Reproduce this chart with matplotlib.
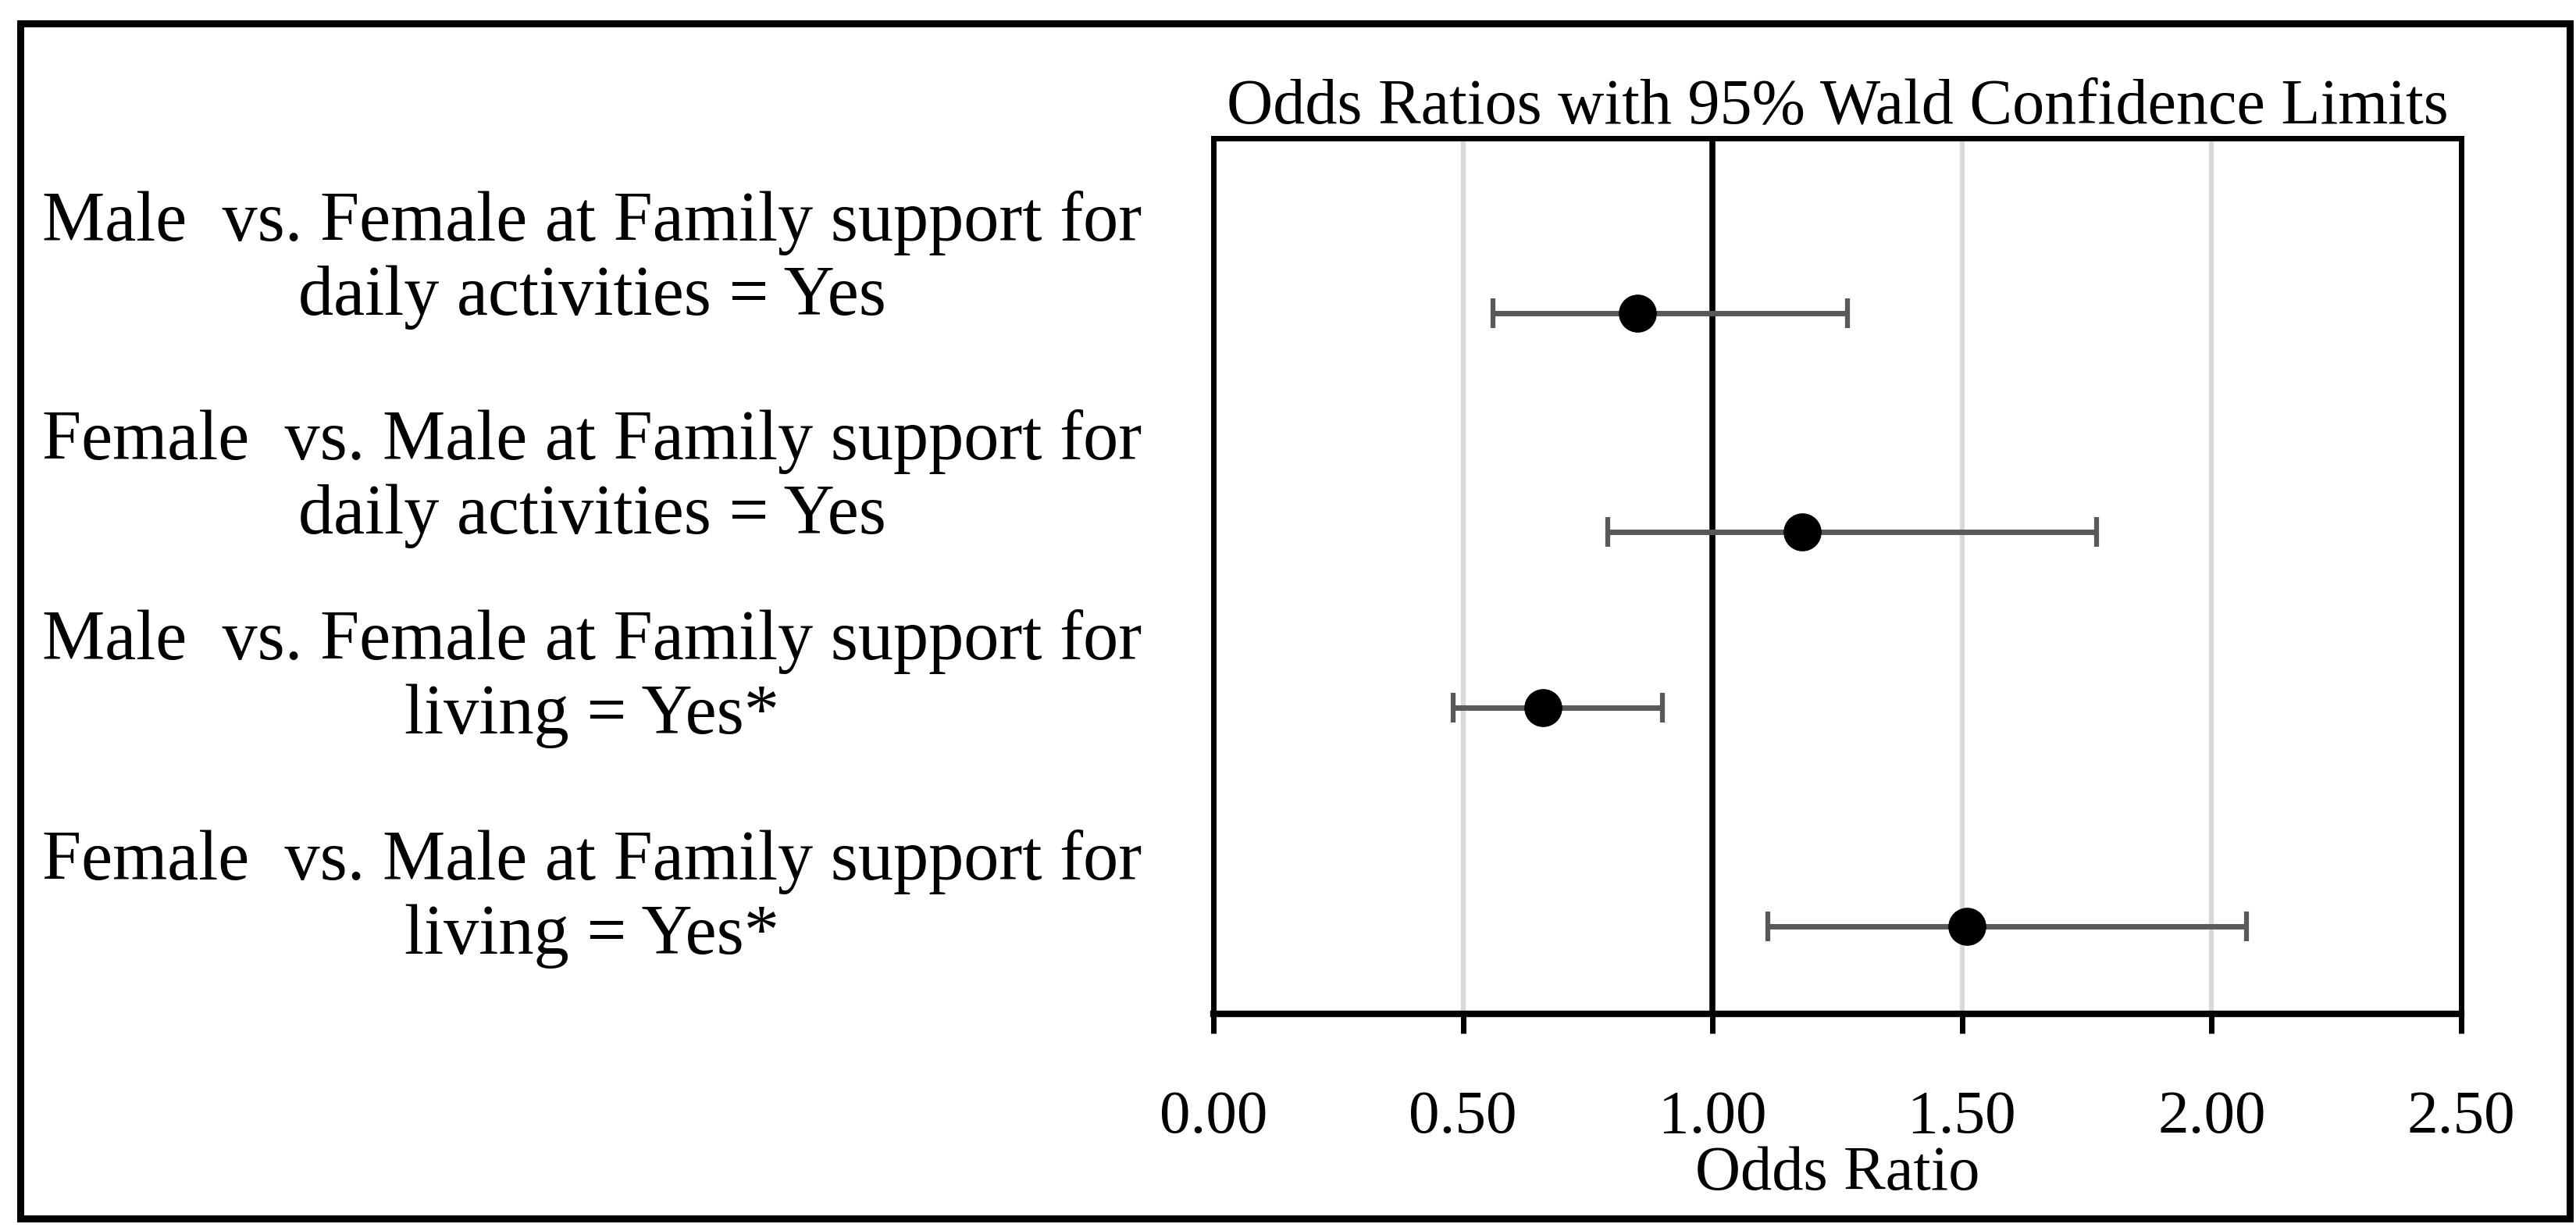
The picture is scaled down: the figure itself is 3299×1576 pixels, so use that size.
import numpy as np
import matplotlib
matplotlib.use('Agg')
import matplotlib.pyplot as plt
from matplotlib.patches import Rectangle

plt.rcParams['font.family'] = ['Liberation Serif', 'DejaVu Serif']

# data
labels = ['Male  vs. Female at Family support for\ndaily activities = Yes',
          'Female  vs. Male at Family support for\ndaily activities = Yes',
          'Male  vs. Female at Family support for\nliving = Yes*',
          'Female  vs. Male at Family support for\nliving = Yes*']
odds = [0.85, 1.18, 0.66, 1.51]
lower = [0.56, 0.79, 0.48, 1.11]
upper = [1.27, 1.77, 0.90, 2.07]
row_y = [0.80, 0.55, 0.35, 0.10]      # point rows
label_y = [0.875, 0.625, 0.397, 0.145]  # label rows
xticks = [0.0, 0.5, 1.0, 1.5, 2.0, 2.5]

W, H = 3299, 1576
fig = plt.figure(figsize=(W / 100, H / 100), dpi=100)
ax = fig.add_axes([1554 / W, 1 - 1298 / H, (3152 - 1554) / W, (1298 - 177) / H])

odds = np.array(odds)
err = np.array([odds - np.array(lower), np.array(upper) - odds])

for x in [0.5, 1.5, 2.0]:
    ax.axvline(x, color='#d9d9d9', lw=4.5, zorder=0)
ax.axvline(1.0, color='black', lw=5.5, zorder=1)

ax.errorbar(odds, row_y, xerr=err, fmt='none', ecolor='#595959',
            elinewidth=5, capsize=14, capthick=4.5, zorder=2)
ax.plot(odds, row_y, 'o', color='black', ms=34, zorder=3)

ax.set_xlim(0, 2.5)
ax.set_ylim(0, 1)
ax.set_xticks(xticks, ['%.2f' % v for v in xticks])
ax.tick_params(axis='x', direction='out', length=18, width=5, pad=52, labelsize=57)
ax.set_yticks(label_y, labels)
ax.tick_params(axis='y', length=0, pad=573, labelsize=65)
for t in ax.get_yticklabels():
    t.set_ha('center')
    t.set_multialignment('center')

for s in ax.spines.values():
    s.set_linewidth(5)
    s.set_color('black')
ax.spines['bottom'].set_linewidth(6)

ax.set_title('Odds Ratios with 95% Wald Confidence Limits', fontsize=59, pad=14)
ax.set_xlabel('Odds Ratio', fontsize=58, labelpad=0)

fig.patches.append(Rectangle((25.5 / W, 1 - 1560 / H), (3291 - 25.5) / W, (1560 - 29.5) / H,
                             transform=fig.transFigure, fill=False, lw=6.5,
                             edgecolor='black', joinstyle='miter'))

plt.savefig('out.png', dpi=100)
